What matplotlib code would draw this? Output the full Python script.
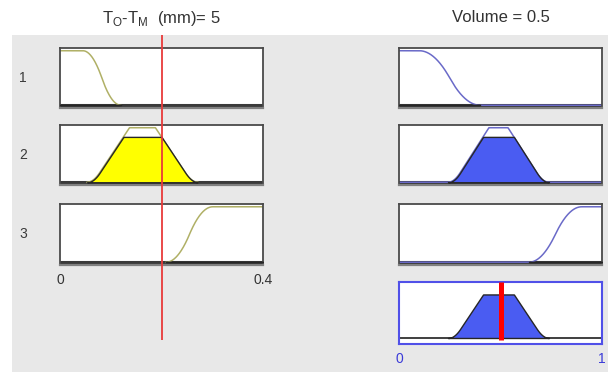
import numpy as np
import matplotlib
matplotlib.use("Agg")
import matplotlib.pyplot as plt
from matplotlib.patches import Rectangle

# ---- fuzzy system description -------------------------------------------
input_range = [0.0, 0.4]
output_range = [0.0, 1.0]
input_value = 0.2
output_value = 0.5
input_title = r"T$_{\mathrm{O}}$-T$_{\mathrm{M}}$  (mm)= 5"
output_title = "Volume = 0.5"
rule_labels = ["1", "2", "3"]
input_ticks = ["0", "0.4"]
output_ticks = ["0", "1"]

# membership function parameters (input: T_O - T_M, output: Volume)
input_mf1 = [0.045, 0.12]                    # z-shaped
input_mf2 = [0.053, 0.137, 0.188, 0.272]     # trapezoid with rounded feet
input_mf3 = [0.209, 0.301]                   # s-shaped
output_mf1 = [0.10, 0.40]                    # z-shaped
output_mf2 = [0.241, 0.443, 0.537, 0.739]    # trapezoid with rounded feet
output_mf3 = [0.64, 0.90]                    # s-shaped


def zmf(x, a, b):
    m = (a + b) / 2
    y = np.where(x <= a, 1.0,
        np.where(x <= m, 1 - 2 * ((x - a) / (b - a)) ** 2,
        np.where(x <= b, 2 * ((x - b) / (b - a)) ** 2, 0.0)))
    return y


def smf(x, a, b):
    return 1 - zmf(x, a, b)


def ramp(t, w=0.3):
    t = np.clip(t, 0, 1)
    g = np.where(t < w, t ** 2 / (2 * w), t - w / 2)
    return g / (1 - w / 2)


def trapmf_soft(x, a, b, c, d):
    return np.minimum(ramp((x - a) / (b - a)), ramp((d - x) / (d - c)))


xin = np.linspace(*input_range, 801)
xout = np.linspace(*output_range, 801)
in_mfs = [zmf(xin, *input_mf1), trapmf_soft(xin, *input_mf2), smf(xin, *input_mf3)]
out_mfs = [zmf(xout, *output_mf1), trapmf_soft(xout, *output_mf2), smf(xout, *output_mf3)]
xv = np.array([input_value])
levels = [float(zmf(xv, *input_mf1)[0]),
          float(trapmf_soft(xv, *input_mf2)[0]),
          float(smf(xv, *input_mf3)[0])]
aggregate = np.max([np.minimum(m, lv) for m, lv in zip(out_mfs, levels)], axis=0)

# ---- figure layout (pixel based) ----------------------------------------
W, H = 608, 372
fig = plt.figure(figsize=(W / 100, H / 100), dpi=100)
fig.patch.set_facecolor("white")


def rect(x0, y0, x1, y1):
    return [x0 / W, 1 - y1 / H, (x1 - x0) / W, (y1 - y0) / H]


fig.patches.append(Rectangle((12 / W, 0), 1 - 12 / W, 1 - 35 / H,
                             transform=fig.transFigure, facecolor="#e8e8e8",
                             edgecolor="none", zorder=-5))

LEFT = (60, 263)
RIGHT = (399, 602)
ROWS = [(48, 108), (125, 185), (204, 265)]
AGG = (282, 344)

IN_LINE = "#b0b066"
OUT_LINE = "#6a6ac8"
IN_FILL = "#ffff00"
OUT_FILL = "#4a5cf2"
EDGE = "#262626"


def style_panel(ax, xlim):
    ax.set_xlim(*xlim)
    ax.set_ylim(-0.05, 1.05)
    ax.set_xticks([])
    ax.set_yticks([])
    ax.set_facecolor("white")
    for s in ("top", "left", "right"):
        ax.spines[s].set_color("#4a4a4a")
        ax.spines[s].set_linewidth(1.3)
    ax.spines["bottom"].set_color("#808080")
    ax.spines["bottom"].set_linewidth(1.6)
    ax.axhline(0, color="#3a3a3a", lw=2.2, zorder=1)


for i, (y0, y1) in enumerate(ROWS):
    # input side
    ax = fig.add_axes(rect(LEFT[0], y0, LEFT[1], y1))
    style_panel(ax, input_range)
    mf = in_mfs[i]
    ax.plot(xin, np.where(mf > 1e-6, mf, np.nan), color=IN_LINE, lw=1.1, zorder=2)
    ax.fill_between(xin, 0, np.minimum(mf, levels[i]), where=mf > 1e-6,
                    facecolor=IN_FILL, edgecolor=EDGE, lw=1.0, zorder=3)
    if i == 2:
        ax.set_xticks(input_range, input_ticks)
        ax.tick_params(length=0, pad=6, labelsize=10, labelcolor="#333333")
        for t in ax.get_xticklabels():
            t.set_family("Liberation Sans")
    fig.text(23 / W, 1 - (y0 + y1) / 2 / H, rule_labels[i], ha="center",
             va="center", fontsize=10, color="#3a3a3a", family="Liberation Sans")

    # output side
    ax = fig.add_axes(rect(RIGHT[0], y0, RIGHT[1], y1))
    style_panel(ax, output_range)
    mf = out_mfs[i]
    ax.plot(xout, mf, color=OUT_LINE, lw=1.1, zorder=2)
    ax.fill_between(xout, 0, np.minimum(mf, levels[i]), where=mf > 1e-6,
                    facecolor=OUT_FILL, edgecolor=EDGE, lw=1.0, zorder=3)

# aggregated output
ax = fig.add_axes(rect(RIGHT[0], AGG[0], RIGHT[1], AGG[1]))
ax.set_xlim(*output_range)
ax.set_ylim(-0.115, 1.07)
ax.set_facecolor("white")
for s in ax.spines.values():
    s.set_color("#5050e8")
    s.set_linewidth(1.5)
ax.set_yticks([])
ax.set_xticks(output_range, output_ticks)
ax.tick_params(length=0, pad=6, labelsize=10, labelcolor="#3a3ad8")
for t in ax.get_xticklabels():
    t.set_family("Liberation Sans")
ax.axhline(0, color="#303030", lw=1.3, zorder=1)
ax.fill_between(xout, 0, aggregate, where=aggregate > 1e-6,
                facecolor=OUT_FILL, edgecolor=EDGE, lw=1.0, zorder=2)
ax.vlines(output_value, -0.04, 1.07, color="#ff0000", lw=3.6, zorder=4)

# input cursor line across all input panels
ov = fig.add_axes(rect(LEFT[0], 35, LEFT[1], 340), zorder=10)
ov.set_xlim(*input_range)
ov.set_ylim(0, 1)
ov.axis("off")
ov.axvline(input_value, color="#e83a3a", lw=1.3)

# column titles
plt.rcParams["mathtext.fontset"] = "custom"
plt.rcParams["mathtext.rm"] = "Liberation Sans"
fig.text(sum(LEFT) / 2 / W, 1 - 18 / H, input_title, ha="center", va="center",
         fontsize=12, color="#333333", family="Liberation Sans")
fig.text(sum(RIGHT) / 2 / W, 1 - 17 / H, output_title, ha="center", va="center",
         fontsize=12, color="#333333", family="Liberation Sans")

fig.savefig("out.png", dpi=100, facecolor=fig.get_facecolor())
